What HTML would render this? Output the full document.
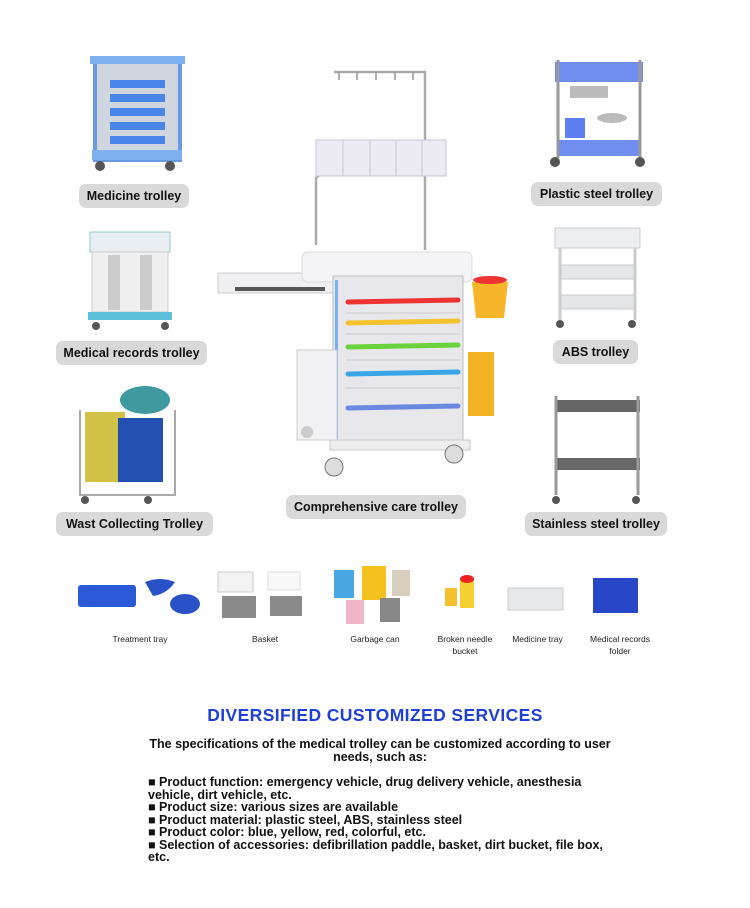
<!DOCTYPE html>
<html><head><style>
body{margin:0;background:#fff;width:750px;height:908px;position:relative;overflow:hidden;font-family:"Liberation Sans",sans-serif}
.pill{position:absolute;background:#d9d9d9;border-radius:7px;font-weight:bold;font-size:12.5px;color:#111;text-align:center;line-height:24px;height:24px}
.cap{position:absolute;font-size:8.5px;color:#222;text-align:center;line-height:12px}
svg{position:absolute;left:0;top:0}
.h{position:absolute;left:0;width:750px;text-align:center;color:#1f3fd6;font-weight:bold;font-size:17.5px;top:705px;letter-spacing:0.4px}
.t{position:absolute;font-size:12.5px;font-weight:bold;color:#111;line-height:12.5px}
</style></head><body>
<svg width="750" height="908">
<rect x="95" y="60" width="85" height="100" fill="#cfd6e0" stroke="#6a9be0" stroke-width="4"/>
<rect x="90" y="56" width="95" height="8" fill="#7fb0f0"/>
<g fill="#4a86e8"><rect x="110" y="80" width="55" height="8"/><rect x="110" y="94" width="55" height="8"/><rect x="110" y="108" width="55" height="8"/><rect x="110" y="122" width="55" height="8"/><rect x="110" y="136" width="55" height="8"/></g>
<rect x="92" y="150" width="90" height="10" fill="#7fb0f0"/>
<circle cx="100" cy="166" r="5" fill="#555"/><circle cx="170" cy="166" r="5" fill="#555"/>
<rect x="555" y="62" width="88" height="20" fill="#6f8ef0"/>
<rect x="557" y="140" width="84" height="16" fill="#6f8ef0"/>
<g stroke="#999" stroke-width="3"><line x1="558" y1="60" x2="558" y2="158"/><line x1="640" y1="60" x2="640" y2="158"/></g>
<rect x="570" y="86" width="38" height="12" fill="#bbb"/>
<rect x="565" y="118" width="20" height="20" fill="#5d7ff0"/><ellipse cx="612" cy="118" rx="15" ry="5" fill="#bbb"/>
<circle cx="555" cy="162" r="5" fill="#555"/><circle cx="640" cy="162" r="5" fill="#555"/>
<rect x="90" y="232" width="80" height="20" fill="#e8eef2" stroke="#9cc" />
<rect x="92" y="252" width="76" height="60" fill="#f0f0f0" stroke="#ccc"/>
<rect x="108" y="255" width="12" height="55" fill="#ccc"/><rect x="140" y="255" width="12" height="55" fill="#ccc"/>
<rect x="88" y="312" width="84" height="8" fill="#5bc0d8"/>
<circle cx="96" cy="326" r="4" fill="#555"/><circle cx="165" cy="326" r="4" fill="#555"/>
<rect x="555" y="228" width="85" height="20" fill="#eceef2" stroke="#ccc"/>
<rect x="560" y="265" width="75" height="14" fill="#e4e6ea" stroke="#ccc"/>
<rect x="560" y="295" width="75" height="14" fill="#e4e6ea" stroke="#ccc"/>
<g stroke="#ccc" stroke-width="3"><line x1="560" y1="248" x2="560" y2="320"/><line x1="635" y1="248" x2="635" y2="320"/></g>
<circle cx="560" cy="324" r="4" fill="#555"/><circle cx="632" cy="324" r="4" fill="#555"/>
<rect x="85" y="412" width="40" height="70" fill="#d2c247"/>
<rect x="118" y="418" width="45" height="64" fill="#2350b0"/>
<ellipse cx="145" cy="400" rx="25" ry="14" fill="#3f9aa0"/>
<g stroke="#aaa" stroke-width="2" fill="none"><path d="M80 410 L80 495 L175 495 L175 410"/></g>
<circle cx="85" cy="500" r="4" fill="#555"/><circle cx="148" cy="500" r="4" fill="#555"/>
<rect x="555" y="400" width="85" height="12" fill="#666"/>
<rect x="555" y="458" width="85" height="12" fill="#666"/>
<g stroke="#999" stroke-width="3"><line x1="556" y1="396" x2="556" y2="495"/><line x1="638" y1="396" x2="638" y2="495"/></g>
<circle cx="556" cy="500" r="4" fill="#555"/><circle cx="636" cy="500" r="4" fill="#555"/>
<g stroke="#aaa" stroke-width="2.5" fill="none">
<path d="M334 72 L425 72 L425 250"/><path d="M316 245 L316 180 Q316 175 322 175 L425 175"/>
</g>
<g stroke="#999" stroke-width="1.5" fill="none"><path d="M339 72 v8"/><path d="M357 72 v8"/><path d="M376 72 v8"/><path d="M395 72 v8"/><path d="M413 72 v8"/></g>
<rect x="316" y="140" width="130" height="36" fill="#eceaf2" stroke="#c9c6d8"/>
<g stroke="#c9c6d8"><line x1="343" y1="140" x2="343" y2="176"/><line x1="370" y1="140" x2="370" y2="176"/><line x1="396" y1="140" x2="396" y2="176"/><line x1="422" y1="140" x2="422" y2="176"/></g>
<rect x="218" y="273" width="116" height="20" fill="#f0f0f2" stroke="#ccc"/>
<rect x="235" y="287" width="90" height="4" fill="#555"/>
<rect x="302" y="252" width="170" height="30" rx="6" fill="#f4f4f6" stroke="#ddd"/>
<rect x="333" y="276" width="130" height="168" fill="#e8e8ec" stroke="#bbb"/>
<rect x="335" y="280" width="3" height="160" fill="#7ab0f0"/>
<rect x="297" y="350" width="40" height="90" fill="#f2f2f4" stroke="#ccc"/>
<rect x="468" y="352" width="26" height="64" fill="#f4b324"/>
<path d="M472 282 h36 l-4 36 h-28 z" fill="#f7b52a"/><ellipse cx="490" cy="280" rx="17" ry="4" fill="#e33"/>
<g stroke-width="5" stroke-linecap="round">
<line x1="348" y1="302" x2="458" y2="300" stroke="#e33"/>
<line x1="348" y1="323" x2="458" y2="321" stroke="#f5c230"/>
<line x1="348" y1="347" x2="458" y2="345" stroke="#6ad23a"/>
<line x1="348" y1="374" x2="458" y2="372" stroke="#3aa6e8"/>
<line x1="348" y1="408" x2="458" y2="406" stroke="#6a88e0"/>
</g>
<g stroke="#ccc"><line x1="346" y1="313" x2="460" y2="313"/><line x1="346" y1="334" x2="460" y2="334"/><line x1="346" y1="360" x2="460" y2="360"/><line x1="346" y1="388" x2="460" y2="388"/></g>
<rect x="330" y="440" width="140" height="10" fill="#eee" stroke="#ccc"/>
<circle cx="307" cy="432" r="6" fill="#ccc"/><circle cx="334" cy="467" r="9" fill="#ddd" stroke="#777"/><circle cx="454" cy="454" r="9" fill="#ddd" stroke="#777"/>
<rect x="78" y="585" width="58" height="22" rx="3" fill="#2a5ad8"/>
<path d="M145 582 q15 -6 30 0 q-8 12 -22 14 z" fill="#2a52c8"/><ellipse cx="185" cy="604" rx="15" ry="10" fill="#2a52c8"/>
<rect x="218" y="572" width="35" height="20" fill="#f3f3f3" stroke="#ccc"/><rect x="268" y="572" width="32" height="18" fill="#f8f8f8" stroke="#ddd"/>
<rect x="222" y="596" width="34" height="22" fill="#8a8a8a"/><rect x="270" y="596" width="32" height="20" fill="#8a8a8a"/>
<rect x="334" y="570" width="20" height="28" fill="#4aa6e0"/><rect x="362" y="566" width="24" height="34" fill="#f3c21f"/><rect x="392" y="570" width="18" height="26" fill="#d8d0bd"/>
<rect x="346" y="600" width="18" height="24" fill="#f0b6c8"/><rect x="380" y="598" width="20" height="24" fill="#888"/>
<rect x="445" y="588" width="12" height="18" fill="#f4c030"/><rect x="460" y="578" width="14" height="30" fill="#f5d030"/><ellipse cx="467" cy="579" rx="7" ry="4" fill="#e22"/>
<rect x="508" y="588" width="55" height="22" fill="#e6e8ec" stroke="#ccc"/>
<rect x="593" y="578" width="45" height="35" fill="#2747c8"/>
</svg>
<div class="pill" style="left:79px;top:184px;width:110px">Medicine trolley</div>
<div class="pill" style="left:531px;top:182px;width:131px">Plastic steel trolley</div>
<div class="pill" style="left:56px;top:341px;width:151px">Medical records trolley</div>
<div class="pill" style="left:553px;top:340px;width:85px">ABS trolley</div>
<div class="pill" style="left:56px;top:512px;width:157px">Wast Collecting Trolley</div>
<div class="pill" style="left:525px;top:512px;width:142px">Stainless steel trolley</div>
<div class="pill" style="left:286px;top:495px;width:180px">Comprehensive care trolley</div>
<div class="cap" style="left:90px;top:633px;width:100px">Treatment tray</div>
<div class="cap" style="left:230px;top:633px;width:70px">Basket</div>
<div class="cap" style="left:330px;top:633px;width:90px">Garbage can</div>
<div class="cap" style="left:425px;top:633px;width:80px">Broken needle<br>bucket</div>
<div class="cap" style="left:500px;top:633px;width:75px">Medicine tray</div>
<div class="cap" style="left:580px;top:633px;width:80px">Medical records<br>folder</div>
<div class="h">DIVERSIFIED CUSTOMIZED SERVICES</div>
<div class="t" style="left:140px;top:738px;width:480px;text-align:center">The specifications of the medical trolley can be customized according to user needs, such as:</div>
<div class="t" style="left:148px;top:776px;width:470px">■ Product function: emergency vehicle, drug delivery vehicle, anesthesia vehicle, dirt vehicle, etc.<br>■ Product size: various sizes are available<br>■ Product material: plastic steel, ABS, stainless steel<br>■ Product color: blue, yellow, red, colorful, etc.<br>■ Selection of accessories: defibrillation paddle, basket, dirt bucket, file box, etc.</div>
</body></html>
